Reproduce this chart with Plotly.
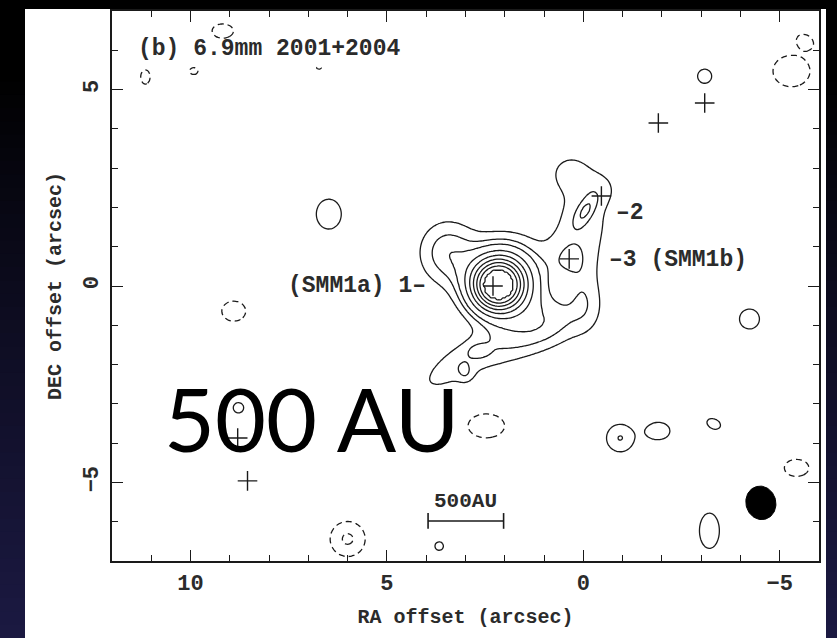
import numpy as np
import plotly.graph_objects as go

# ---------------------------------------------------------------------------
# 6.9 mm continuum model: sum of elliptical Gaussian components
# RA/DEC offsets in arcsec, peak in units of the lowest contour,
# sigma along major / minor axis in arcsec, angle of major axis (deg, from +RA)
# ---------------------------------------------------------------------------
COMP_RA    = [2.20, 2.00, 3.45, 0.38, -0.05, 0.00, 0.05, 0.35, -0.35, 1.00, -0.05,
              3.40, 2.30, 1.10, 2.65, 3.00,
              6.48, -3.09, -4.23, -0.94, -0.94, -1.92, -3.32, -3.21, 8.78, 3.67]
COMP_DEC   = [0.00, 0.20, 0.85, 0.66, 1.91, 2.00, 1.30, 2.90, 2.50, -0.75, -0.30,
              -2.10, -1.60, -1.25, -1.65, -2.24,
              1.83, 5.34, -0.84, -3.87, -3.87, -3.69, -3.51, -6.23, -3.10, -6.62]
COMP_PEAK  = [15.0, 6.0, 2.7, 1.5, 2.0, 1.1, 0.5, 1.0, 0.7, 1.8, 1.3,
              1.25, 1.15, 1.1, 1.05, 1.05,
              1.35, 1.3, 1.3, 1.6, 0.55, 1.9, 1.25, 1.3, 1.2, 1.2]
COMP_SMAJ  = [0.45, 0.60, 0.50, 0.42, 0.30, 0.70, 0.45, 0.33, 0.35, 0.75, 0.30,
              0.75, 0.80, 0.80, 0.17, 0.15,
              0.41, 0.25, 0.35, 0.36, 0.08, 0.25, 0.27, 0.35, 0.22, 0.18]
COMP_SMIN  = [0.45, 0.60, 0.55, 0.42, 0.14, 0.90, 0.50, 0.30, 0.30, 0.45, 0.60,
              0.30, 0.40, 0.35, 0.11, 0.17,
              0.49, 0.25, 0.35, 0.36, 0.08, 0.19, 0.19, 0.62, 0.22, 0.18]
COMP_ANGLE = [0, 0, 0, 0, 123, 0, 0, 0, 0, -15, 0,
              -35, -25, -20, 0, 0,
              0, 0, 0, 45, 0, 0, 25, 0, 0, 0]

# negative (sidelobe) components
NEG_RA    = [8.90, 2.47, 6.00, -5.30, -5.65, -5.43, 9.18, 11.15, 9.92, 6.73]
NEG_DEC   = [-0.64, -3.56, -6.44, 5.47, 6.25, -4.63, 6.49, 5.32, 5.47, 5.55]
NEG_PEAK  = [-1.3, -1.3, -2.15, -1.3, -1.15, -1.3, -1.2, -1.2, -1.1, -1.05]
NEG_SMAJ  = [0.42, 0.64, 0.36, 0.65, 0.20, 0.43, 0.45, 0.20, 0.25, 0.20]
NEG_SMIN  = [0.35, 0.42, 0.36, 0.55, 0.15, 0.30, 0.30, 0.30, 0.20, 0.12]
NEG_ANGLE = [0, 0, 0, 0, 30, 0, 0, 0, 0, 0]

POS_LEVELS = [1, 2, 3, 5, 7, 9, 11, 13, 15]
NEG_LEVELS = [-2, -1]

# continuum sources (crosses)
SRC_RA  = [2.30, -0.46, 0.36, -3.09, -1.91, 8.80, 8.55]
SRC_DEC = [0.00, 2.29, 0.69, 4.66, 4.15, -3.87, -4.96]

# synthesized beam
BEAM_RA, BEAM_DEC = -4.52, -5.52
BEAM_MAJ, BEAM_MIN, BEAM_PA = 0.86, 0.76, 15.0

# linear scale bar
SCALE_AU = 500
DISTANCE_PC = 260
SCALE_RA_END, SCALE_DEC = 2.03, -5.98

X_RANGE = [12, -6]
Y_RANGE = [-7, 7]
X_TICKS = [10, 5, 0, -5]
Y_TICKS = [-5, 0, 5]

INK = "#1a1a1a"
TEXT_INK = "#2b2b2b"
MONO = "Liberation Mono, DejaVu Sans Mono, monospace"


def gaussian_field(gx, gy, ra, dec, peak, smaj, smin, ang):
    field = np.zeros_like(gx)
    for x0, y0, a, s1, s2, th in zip(ra, dec, peak, smaj, smin, ang):
        t = np.deg2rad(th)
        dx, dy = gx - x0, gy - y0
        u = dx * np.cos(t) + dy * np.sin(t)
        v = -dx * np.sin(t) + dy * np.cos(t)
        field += a * np.exp(-0.5 * ((u / s1) ** 2 + (v / s2) ** 2))
    return field


xs = np.arange(-6.5, 12.5001, 0.05)
ys = np.arange(-7.5, 7.5001, 0.05)
GX, GY = np.meshgrid(xs, ys)
z = gaussian_field(GX, GY, COMP_RA, COMP_DEC, COMP_PEAK, COMP_SMAJ, COMP_SMIN, COMP_ANGLE)
z += gaussian_field(GX, GY, NEG_RA, NEG_DEC, NEG_PEAK, NEG_SMAJ, NEG_SMIN, NEG_ANGLE)

# map the (non-uniform) positive levels onto integer steps so one trace draws them all
lev_x = [0] + POS_LEVELS + [10 * POS_LEVELS[-1]]
lev_i = list(range(len(POS_LEVELS) + 1)) + [len(POS_LEVELS) + 1]
z_pos = np.interp(z, lev_x, lev_i).astype(np.float32)
z_neg = np.minimum(z, 0).astype(np.float32)

fig = go.Figure()

fig.add_trace(go.Contour(
    x=xs, y=ys, z=z_pos,
    contours=dict(start=1, end=len(POS_LEVELS), size=1, coloring="none"),
    line=dict(color=INK, width=1.3, smoothing=1.0),
    showscale=False, hoverinfo="skip",
))
fig.add_trace(go.Contour(
    x=xs, y=ys, z=z_neg,
    contours=dict(start=NEG_LEVELS[0], end=NEG_LEVELS[-1], size=1, coloring="none"),
    line=dict(color=INK, width=1.3, smoothing=1.0, dash="6px,4px"),
    showscale=False, hoverinfo="skip",
))

# source positions
fig.add_trace(go.Scatter(
    x=SRC_RA, y=SRC_DEC, mode="markers",
    marker=dict(symbol="cross-thin", size=14, line=dict(color=INK, width=1.4)),
    hoverinfo="skip",
))

# beam ellipse
t = np.linspace(0, 2 * np.pi, 80)
pa = np.deg2rad(BEAM_PA)
a, b = BEAM_MAJ / 2, BEAM_MIN / 2
bx = BEAM_RA + a * np.cos(t) * np.sin(pa) + b * np.sin(t) * np.cos(pa)
by = BEAM_DEC + a * np.cos(t) * np.cos(pa) - b * np.sin(t) * np.sin(pa)
fig.add_trace(go.Scatter(x=bx, y=by, mode="lines", fill="toself",
                         fillcolor="black", line=dict(color="black", width=1),
                         hoverinfo="skip"))

# scale bar (500 AU at the adopted distance)
bar_len = SCALE_AU / DISTANCE_PC
x_a, x_b = SCALE_RA_END + bar_len, SCALE_RA_END
cap = 0.2
fig.add_trace(go.Scatter(
    x=[x_a, x_b, None, x_a, x_a, None, x_b, x_b],
    y=[SCALE_DEC, SCALE_DEC, None, SCALE_DEC - cap, SCALE_DEC + cap, None,
       SCALE_DEC - cap, SCALE_DEC + cap],
    mode="lines", line=dict(color=INK, width=1.6), hoverinfo="skip",
))

# page background: dark gradient with a white panel behind the plot
W, H = 837, 638
ML, MR, MT, MB = 112, 18, 9, 77
PW, PH = W - ML - MR, H - MT - MB


def px_x(p):
    return (p - ML) / PW


def px_y(p):
    return (H - MB - p) / PH


shapes = []
n_bands = 48
for i in range(n_bands):
    y0p, y1p = i * H / n_bands, (i + 1) * H / n_bands
    tt = max(0.0, ((y0p + y1p) / 2 / H - 0.12) / 0.88)
    f = tt ** 0.85
    col = "rgb(%d,%d,%d)" % (round(27 * f), round(25 * f), round(66 * f))
    shapes.append(dict(type="rect", xref="paper", yref="paper", layer="below",
                       x0=px_x(0), x1=px_x(W), y0=px_y(y1p + 1), y1=px_y(y0p),
                       fillcolor=col, line=dict(width=0)))
shapes.append(dict(type="rect", xref="paper", yref="paper", layer="below",
                   x0=px_x(25), x1=px_x(826), y0=px_y(H + 2), y1=px_y(7),
                   fillcolor="white", line=dict(width=0)))

label_font = dict(family=MONO, size=23, color=TEXT_INK, weight="bold")
annotations = [
    dict(x=11.4, y=6.03, text="(b) 6.9mm 2001+2004", xanchor="left", yanchor="middle",
         showarrow=False, font=label_font),
    dict(x=3.95, y=0.0, text="(SMM1a) 1–", xanchor="right", yanchor="middle",
         showarrow=False, font=label_font),
    dict(x=-0.79, y=1.86, text="–2", xanchor="left", yanchor="middle",
         showarrow=False, font=label_font),
    dict(x=-0.59, y=0.66, text="–3 (SMM1b)", xanchor="left", yanchor="middle",
         showarrow=False, font=label_font),
    dict(x=(x_a + x_b) / 2, y=SCALE_DEC + 0.5, text="500AU", xanchor="center",
         yanchor="middle", showarrow=False,
         font=dict(family=MONO, size=21, color=TEXT_INK, weight="bold")),
    dict(x=6.91, y=-3.37, text="500 AU", xanchor="center", yanchor="middle",
         showarrow=False, font=dict(family="Lato, sans-serif", size=88, color="black")),
]

axis_common = dict(
    showline=True, linecolor=INK, linewidth=1.5, mirror="allticks",
    ticks="inside", ticklen=11, tickwidth=1.3, tickcolor=INK,
    showgrid=False, zeroline=False,
    tickfont=dict(family=MONO, size=22, color=TEXT_INK, weight="bold"),
    minor=dict(ticks="inside", ticklen=6, tickwidth=1.2, tickcolor=INK,
               dtick=1, tick0=0, showgrid=False),
    title_font=dict(family=MONO, size=20, color=TEXT_INK, weight="bold"),
)

fig.update_layout(
    width=W, height=H,
    margin=dict(l=ML, r=MR, t=MT, b=MB, pad=0),
    paper_bgcolor="black", plot_bgcolor="rgba(0,0,0,0)",
    showlegend=False,
    shapes=shapes, annotations=annotations,
    xaxis=dict(range=X_RANGE, tickvals=X_TICKS, ticklabelstandoff=1,
               title=dict(text="RA offset (arcsec)", standoff=13), **axis_common),
    yaxis=dict(range=Y_RANGE, tickvals=Y_TICKS, tickangle=-90, ticklabelstandoff=3,
               title=dict(text="DEC offset (arcsec)", standoff=13), **axis_common),
)

fig.write_html("out.html")
